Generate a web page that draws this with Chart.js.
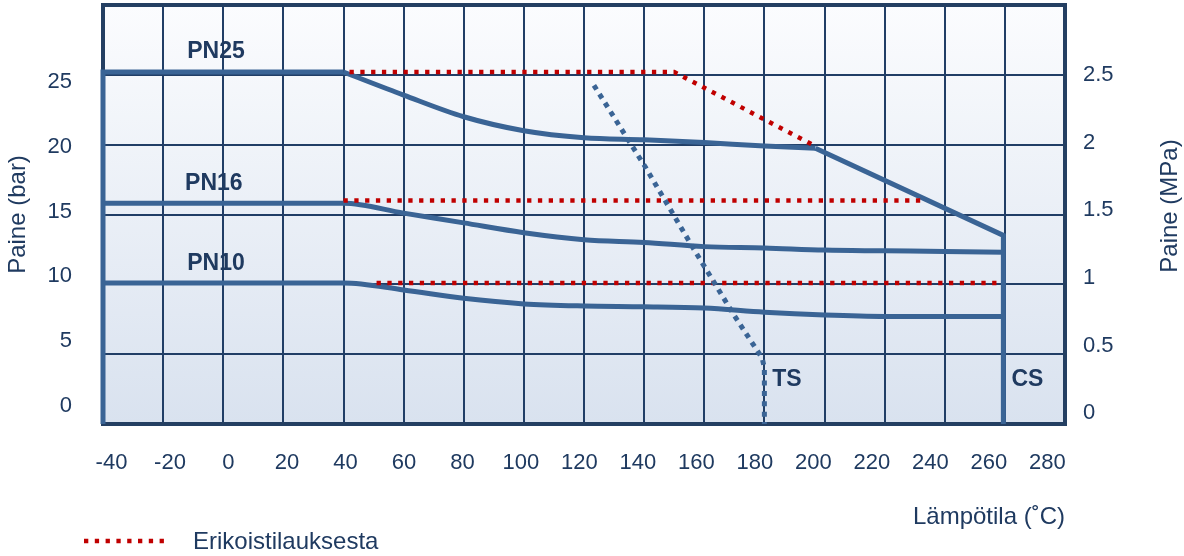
<!DOCTYPE html>
<html>
<head>
<meta charset="utf-8">
<title>Painelämpötilakäyrät</title>
<script src="https://cdn.jsdelivr.net/npm/chart.js@4.4.1/dist/chart.umd.min.js"></script>
<style>
  html, body { margin: 0; padding: 0; background: #ffffff; }
  #wrap { width: 1184px; height: 556px; }
</style>
</head>
<body>
<div id="wrap"><canvas id="pnChart" width="1184" height="556"></canvas></div>
<script>
// axis ticks
const tempTicks = [-40, -20, 0, 20, 40, 60, 80, 100, 120, 140, 160, 180, 200, 220, 240, 260, 280];
const barTicks = [0, 5, 10, 15, 20, 25];
const mpaTicks = [0, 0.5, 1, 1.5, 2, 2.5];

// PN25: left edge + flat run, curved drop, straight drop down to the CS line
const pn25EdgeTemp = [-40, -40, 40];
const pn25EdgeBar = [0, 25.2, 25.2];
const pn25Temp = [40, 60, 80, 100, 120, 140, 160, 180, 197];
const pn25Bar = [25.2, 23.55, 22.0, 21.0, 20.5, 20.35, 20.15, 19.9, 19.75];
const pn25TailTemp = [197, 259.5, 259.5];
const pn25TailBar = [19.75, 13.5, 0];

// PN16 and PN10
const pn16Temp = [-40, 40, 60, 80, 100, 120, 140, 160, 180, 200, 220, 240, 259.5];
const pn16Bar = [15.8, 15.8, 15.1, 14.4, 13.7, 13.2, 13.0, 12.7, 12.6, 12.45, 12.4, 12.35, 12.3];
const pn10Temp = [-40, 40, 60, 80, 100, 120, 140, 160, 180, 200, 220, 240, 259.5];
const pn10Bar = [10.1, 10.1, 9.6, 9.0, 8.6, 8.45, 8.4, 8.3, 8.0, 7.8, 7.7, 7.7, 7.7];

// special order limits (red dotted)
const sp25Temp = [42, 150, 196];
const sp25Bar = [25.2, 25.2, 20.0];
const sp16Temp = [40, 233];
const sp16Bar = [16.0, 16.0];
const sp10Temp = [51, 259];
const sp10Bar = [10.1, 10.1];

// TS limit (blue dotted)
const tsTemp = [123.3, 140.4, 156.3, 169.6, 179.3, 180, 180];
const tsBar = [24.25, 18.4, 12.6, 7.9, 4.7, 4.0, 0];

// text labels inside the plot, anchored at (temp, bar) = left end of the baseline
const curveLabels = ["PN25", "PN16", "PN10", "TS", "CS"];
const labelTemp = [-12, -12.7, -12, 182.6, 262.2];
const labelBar = [26.2, 16.75, 11.05, 2.7, 2.7];

const legendText = "Erikoistilauksesta";

const navy = "#1f3a60";
const gridNavy = "#213e66";
const curveBlue = "#3a6495";
const specialRed = "#c00000";
const fontFamily = "'Liberation Sans', Arial, Helvetica, sans-serif";

Chart.defaults.font.family = fontFamily;
Chart.defaults.color = navy;

function pts(xs, ys) {
  return xs.map((x, i) => ({ x: x, y: ys[i] }));
}

function solid(data, smooth) {
  return {
    data: data,
    borderColor: curveBlue,
    borderWidth: 5,
    pointRadius: 0,
    fill: false,
    clip: false,
    tension: 0,
    cubicInterpolationMode: smooth ? "monotone" : "default",
    borderCapStyle: "butt",
    borderJoinStyle: "miter"
  };
}

function dotted(data, color, width, dash) {
  return {
    data: data,
    borderColor: color,
    borderWidth: width,
    borderDash: dash,
    pointRadius: 0,
    fill: false,
    clip: false,
    tension: 0,
    borderCapStyle: "butt"
  };
}

// the printed tick labels in the original sit a little off the grid lines,
// so they live on their own label-only axes
const labelTicks = (values, size, pad) => ({
  font: { size: size },
  color: navy,
  padding: pad,
  maxRotation: 0,
  autoSkip: false,
  callback: v => String(v)
});

const chartDecor = {
  id: "chartDecor",
  beforeDraw(chart) {
    const { ctx, chartArea: a } = chart;
    const g = ctx.createLinearGradient(0, a.top, 0, a.bottom);
    g.addColorStop(0, "#fbfcfe");
    g.addColorStop(1, "#d9e2ef");
    ctx.save();
    ctx.fillStyle = g;
    ctx.fillRect(a.left, a.top, a.right - a.left, a.bottom - a.top);
    ctx.restore();
  },
  beforeDatasetsDraw(chart) {
    const { ctx, chartArea: a } = chart;
    ctx.save();
    ctx.strokeStyle = "#243f62";
    ctx.lineWidth = 4;
    ctx.strokeRect(a.left, a.top, a.right - a.left, a.bottom - a.top);
    ctx.restore();
  },
  afterDraw(chart) {
    const { ctx } = chart;
    const xs = chart.scales.x;
    const ys = chart.scales.y;
    ctx.save();
    ctx.fillStyle = navy;

    // PN / TS / CS labels
    ctx.font = "bold 23px " + fontFamily;
    ctx.textAlign = "left";
    ctx.textBaseline = "alphabetic";
    curveLabels.forEach((t, i) => {
      ctx.fillText(t, xs.getPixelForValue(labelTemp[i]), ys.getPixelForValue(labelBar[i]));
    });

    // right axis title, reading upwards
    ctx.font = "24px " + fontFamily;
    ctx.textAlign = "center";
    ctx.textBaseline = "middle";
    ctx.save();
    ctx.translate(1170, 206);
    ctx.rotate(-Math.PI / 2);
    ctx.fillText("Paine (MPa)", 0, 0);
    ctx.restore();

    // legend
    ctx.beginPath();
    ctx.strokeStyle = specialRed;
    ctx.lineWidth = 4.5;
    ctx.setLineDash([4.3, 6.5]);
    ctx.moveTo(84, 541);
    ctx.lineTo(165, 541);
    ctx.stroke();
    ctx.setLineDash([]);
    ctx.textAlign = "left";
    ctx.fillText(legendText, 193, 542);
    ctx.restore();
  }
};

const ctx = document.getElementById("pnChart").getContext("2d");

new Chart(ctx, {
  type: "line",
  data: {
    datasets: [
      dotted(pts(tsTemp, tsBar), curveBlue, 5, [5, 5.4]),
      dotted(pts(sp25Temp, sp25Bar), specialRed, 4.5, [4.3, 6.5]),
      dotted(pts(sp16Temp, sp16Bar), specialRed, 4.5, [4.3, 6.5]),
      dotted(pts(sp10Temp, sp10Bar), specialRed, 4.5, [4.3, 6.5]),
      solid(pts(pn25EdgeTemp, pn25EdgeBar), false),
      solid(pts(pn25Temp, pn25Bar), true),
      solid(pts(pn25TailTemp, pn25TailBar), false),
      solid(pts(pn16Temp, pn16Bar), true),
      solid(pts(pn10Temp, pn10Bar), true)
    ]
  },
  options: {
    responsive: false,
    animation: false,
    devicePixelRatio: 1,
    layout: { padding: { top: 5, left: 0, right: 0, bottom: 0 } },
    plugins: {
      legend: { display: false },
      tooltip: { enabled: false }
    },
    scales: {
      // data axes: grid only
      x: {
        type: "linear",
        position: "bottom",
        min: -40,
        max: 280,
        afterBuildTicks: scale => { scale.ticks = tempTicks.map(v => ({ value: v })); },
        afterFit: scale => { scale.height = 0; scale.paddingLeft = 0; scale.paddingRight = 0; },
        grid: { color: gridNavy, lineWidth: 2, drawTicks: false },
        border: { display: false },
        ticks: { display: false }
      },
      y: {
        type: "linear",
        position: "left",
        min: 0,
        max: 30,
        afterBuildTicks: scale => { scale.ticks = barTicks.map(v => ({ value: v })); },
        afterFit: scale => { scale.width = 0; scale.paddingTop = 0; scale.paddingBottom = 0; },
        grid: { color: gridNavy, lineWidth: 2, drawTicks: false },
        border: { display: false },
        ticks: { display: false }
      },
      // label axes
      xLab: {
        type: "linear",
        position: "bottom",
        min: -42.9,
        max: 286,
        afterBuildTicks: scale => { scale.ticks = tempTicks.map(v => ({ value: v })); },
        afterFit: scale => { scale.height = 132; scale.paddingLeft = 0; scale.paddingRight = 0; },
        grid: { display: false, drawTicks: false },
        border: { display: false },
        ticks: labelTicks(tempTicks, 22, 26),
        title: {
          display: true,
          text: "Lämpötila (˚C)",
          align: "end",
          color: navy,
          font: { size: 24 },
          padding: { top: 0, bottom: 24 }
        }
      },
      yLab: {
        type: "linear",
        position: "left",
        min: -1.39,
        max: 30.94,
        afterBuildTicks: scale => { scale.ticks = barTicks.map(v => ({ value: v })); },
        afterFit: scale => { scale.width = 103; scale.paddingTop = 0; scale.paddingBottom = 0; },
        grid: { display: false, drawTicks: false },
        border: { display: false },
        ticks: labelTicks(barTicks, 22, 31),
        title: {
          display: true,
          text: "Paine (bar)",
          color: navy,
          font: { size: 24 },
          padding: { top: 4, bottom: 0 }
        }
      },
      yMpa: {
        type: "linear",
        position: "right",
        min: -0.081,
        max: 3.02,
        afterBuildTicks: scale => { scale.ticks = mpaTicks.map(v => ({ value: v })); },
        afterFit: scale => { scale.width = 119; scale.paddingTop = 0; scale.paddingBottom = 0; },
        grid: { display: false, drawTicks: false },
        border: { display: false },
        ticks: labelTicks(mpaTicks, 22, 18)
      }
    }
  },
  plugins: [chartDecor]
});
</script>
</body>
</html>
